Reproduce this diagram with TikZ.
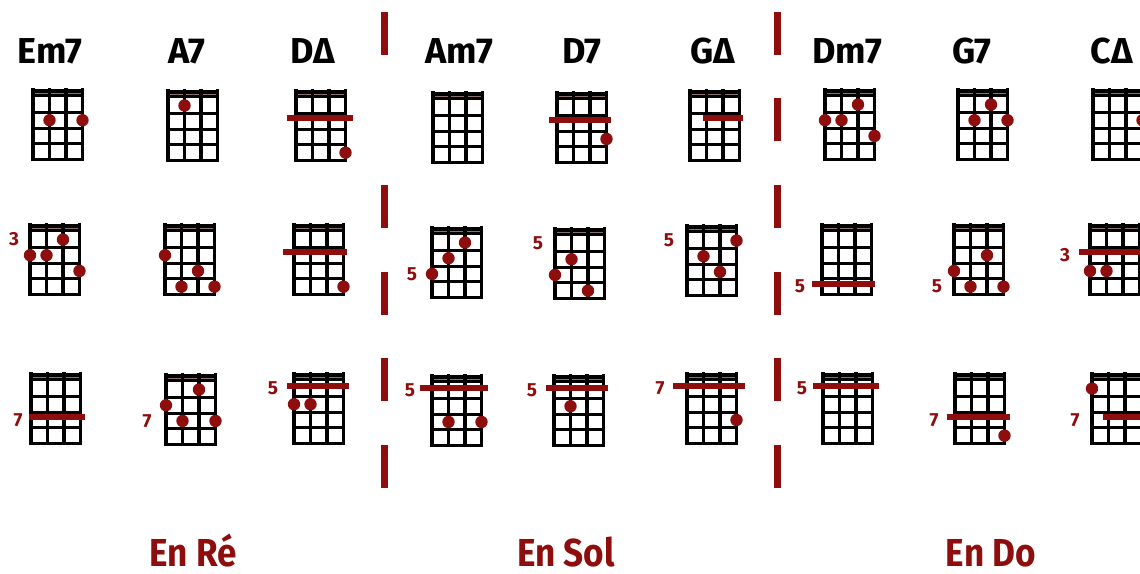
\documentclass[tikz,border=0pt]{standalone}
\usepackage{fontspec}
\setmainfont{Fira Sans}
\newfontfamily\keyfont{Fira Sans}[FakeStretch=0.9]
\definecolor{chordred}{HTML}{8E0E0E}
\definecolor{nutline}{HTML}{8C6E6E}

% one ukulele box, top left corner at the origin of the scope
\newcommand{\ukegrid}{%
  \fill[black] (-1.5,-1.5) rectangle (51,6.7);
  \draw[nutline, line width=1.3pt] (1.5,3.4) -- (48,3.4);
  \foreach \s in {0,16.5,33,49.5} \draw[gridline] (\s,0) -- (\s,69.5);
  \foreach \f in {1,...,4} \draw[gridline] (0,{6.7+15.7*\f}) -- (49.5,{6.7+15.7*\f});
}
\newcommand{\fdot}[2]{\fill[chordred] ({16.5*(#1-1)},{6.7+15.7*(#2-0.5)}) circle (6.2pt);}
\newcommand{\fretbar}[3]{\draw[chordred, line width=6pt] (#1,{3.7+15.7*(#3-0.5)}) -- (#2,{3.7+15.7*(#3-0.5)});}
\newcommand{\fretno}[3]{\node[fretnum] at (#1,{6.7+15.7*(#2-0.5)}) {#3};}

\begin{document}
\begin{tikzpicture}[x=1pt, y=-1pt,
  gridline/.style={black, line width=3.2pt, line cap=rect},
  chordname/.style={anchor=base, inner sep=0pt, font=\bfseries\fontsize{36}{36}\selectfont},
  keyname/.style={anchor=base, inner sep=0pt, text=chordred, font=\keyfont\bfseries\fontsize{39}{39}\selectfont},
  fretnum/.style={inner sep=0pt, text=chordred, font=\bfseries\fontsize{19}{19}\selectfont},
  sep/.style={chordred, line width=7pt}]
\useasboundingbox[fill=white] (0,0) rectangle (1140,573);

% chord names
\node[chordname] (em) at (50,63) {Em7};
\node[chordname] (a) at (187,63) {A7};
\node[chordname] (dmaj) at (313,63) {DΔ};
\node[chordname] (am) at (459,63) {Am7};
\node[chordname] (d) at (582,63) {D7};
\node[chordname] (gmaj) at (713,63) {GΔ};
\node[chordname] (dm) at (847,63) {Dm7};
\node[chordname] (g) at (972,63) {G7};
\node[chordname] (cmaj) at (1112,63) {CΔ};

% separators
\foreach \y in {12,185,272,358,445} \draw[sep] (384,\y) -- (384,\y+43);
\foreach \y in {12,98,185,272,358,445} \draw[sep] (777,\y) -- (777,\y+43);

% first row
\begin{scope}[shift={(33,90)}] \ukegrid \fdot{2}{2} \fdot{4}{2} \end{scope}
\begin{scope}[shift={(168,91)}] \ukegrid \fdot{2}{1} \end{scope}
\begin{scope}[shift={(296,91)}] \ukegrid \fretbar{-9}{57}{2} \fdot{4}{4} \end{scope}
\begin{scope}[shift={(433,93)}] \ukegrid \end{scope}
\begin{scope}[shift={(557,93)}] \ukegrid \fretbar{-8}{54}{2} \fdot{4}{3} \end{scope}
\begin{scope}[shift={(690,91)}] \ukegrid \fretbar{13}{53}{2} \end{scope}
\begin{scope}[shift={(825,90)}] \ukegrid \fdot{3}{1} \fdot{1}{2} \fdot{2}{2} \fdot{4}{3} \end{scope}
\begin{scope}[shift={(958,90)}] \ukegrid \fdot{3}{1} \fdot{2}{2} \fdot{4}{2} \end{scope}
\begin{scope}[shift={(1093,90)}] \ukegrid \fdot{4}{2} \end{scope}

% second row
\begin{scope}[shift={(30,225)}] \ukegrid \fretno{-16}{1}{3}
  \fdot{1}{2} \fdot{2}{2} \fdot{3}{1} \fdot{4}{3} \end{scope}
\begin{scope}[shift={(165,225)}] \ukegrid
  \fdot{1}{2} \fdot{3}{3} \fdot{2}{4} \fdot{4}{4} \end{scope}
\begin{scope}[shift={(294,225)}] \ukegrid \fretbar{-11}{53}{2} \fdot{4}{4} \end{scope}
\begin{scope}[shift={(432,228)}] \ukegrid \fretno{-20}{3}{5}
  \fdot{1}{3} \fdot{2}{2} \fdot{3}{1} \end{scope}
\begin{scope}[shift={(555,229)}] \ukegrid \fretno{-17}{1}{5}
  \fdot{2}{2} \fdot{1}{3} \fdot{3}{4} \end{scope}
\begin{scope}[shift={(687,226)}] \ukegrid \fretno{-18}{1}{5}
  \fdot{4}{1} \fdot{2}{2} \fdot{3}{3} \end{scope}
\begin{scope}[shift={(822,225)}] \ukegrid \fretno{-22}{4}{5} \fretbar{-10}{53}{4} \end{scope}
\begin{scope}[shift={(954,225)}] \ukegrid \fretno{-17}{4}{5}
  \fdot{3}{2} \fdot{1}{3} \fdot{2}{4} \fdot{4}{4} \end{scope}
\begin{scope}[shift={(1090,225)}] \ukegrid \fretno{-25}{2}{3} \fretbar{-11}{60}{2}
  \fdot{1}{3} \fdot{2}{3} \end{scope}

% third row
\begin{scope}[shift={(31,374)}] \ukegrid \fretno{-13}{3}{7} \fretbar{-2}{54}{3} \end{scope}
\begin{scope}[shift={(166,375)}] \ukegrid \fretno{-19}{3}{7}
  \fdot{3}{1} \fdot{1}{2} \fdot{2}{3} \fdot{4}{3} \end{scope}
\begin{scope}[shift={(294,374)}] \ukegrid \fretno{-21}{1}{5} \fretbar{-7}{55}{1}
  \fdot{1}{2} \fdot{2}{2} \end{scope}
\begin{scope}[shift={(432,376)}] \ukegrid \fretno{-22}{1}{5} \fretbar{-12}{56}{1}
  \fdot{2}{3} \fdot{4}{3} \end{scope}
\begin{scope}[shift={(554,376)}] \ukegrid \fretno{-22}{1}{5} \fretbar{-8}{54}{1} \fdot{2}{2} \end{scope}
\begin{scope}[shift={(687,374)}] \ukegrid \fretno{-27}{1}{7} \fretbar{-14}{58}{1} \fdot{4}{3} \end{scope}
\begin{scope}[shift={(823,374)}] \ukegrid \fretno{-21}{1}{5} \fretbar{-10}{56}{1} \end{scope}
\begin{scope}[shift={(955,374)}] \ukegrid \fretno{-21}{3}{7} \fretbar{-8}{55}{3} \fdot{4}{4} \end{scope}
\begin{scope}[shift={(1092,374)}] \ukegrid \fretno{-17}{3}{7} \fdot{1}{1} \fretbar{11}{60}{3} \end{scope}

% keys
\node[keyname] (re) at (193,566) {En Ré};
\node[keyname] (sol) at (566,566) {En Sol};
\node[keyname] (do) at (991,566) {En Do};
\end{tikzpicture}
\end{document}
